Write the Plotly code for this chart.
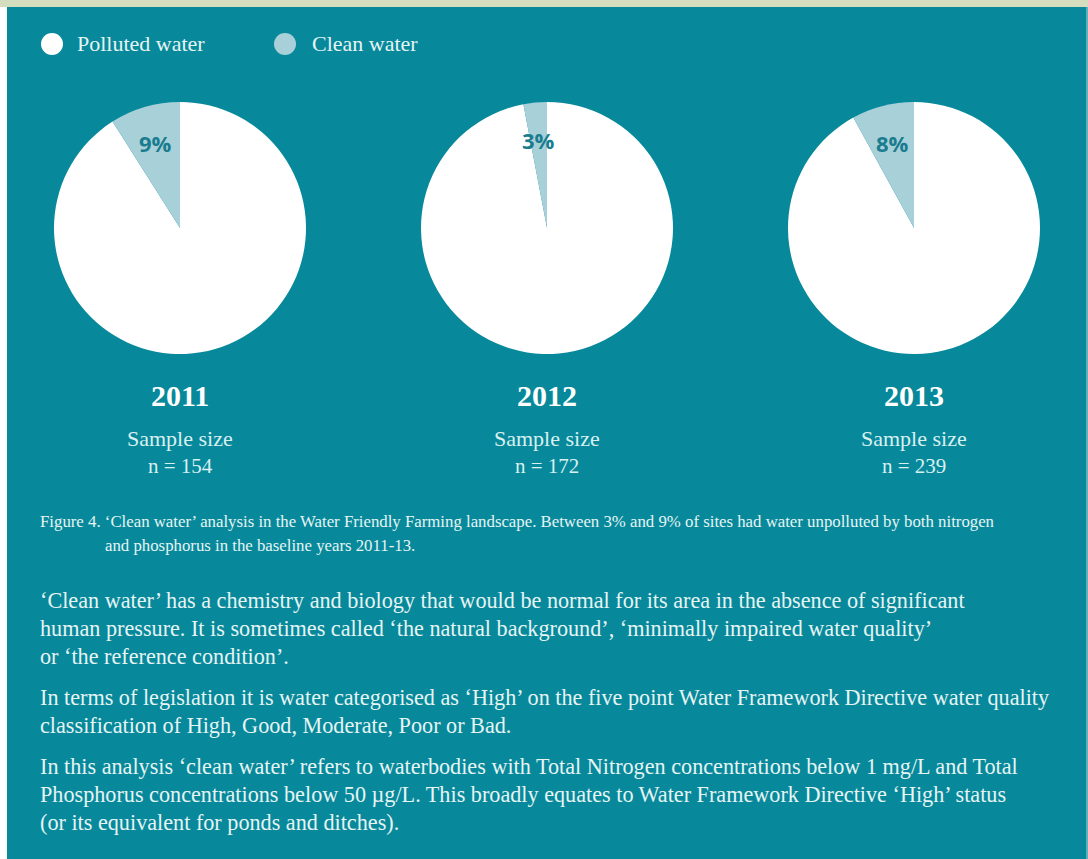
import math
import plotly.graph_objects as go

W, H = 1088, 859

# ---- data ----
years = ["2011", "2012", "2013"]
clean_pct = [9, 3, 8]
sample_sizes = [154, 172, 239]
categories = ["Polluted water", "Clean water"]
caption_lines = [
    "Figure 4. \u2018Clean water\u2019 analysis in the Water Friendly Farming landscape. Between 3% and 9% of sites had water unpolluted by both nitrogen",
    "and phosphorus in the baseline years 2011-13.",
]
paragraphs = [
    ["\u2018Clean water\u2019 has a chemistry and biology that would be normal for its area in the absence of significant",
     "human pressure. It is sometimes called \u2018the natural background\u2019, \u2018minimally impaired water quality\u2019",
     "or \u2018the reference condition\u2019."],
    ["In terms of legislation it is water categorised as \u2018High\u2019 on the five point Water Framework Directive water quality",
     "classification of High, Good, Moderate, Poor or Bad."],
    ["In this analysis \u2018clean water\u2019 refers to waterbodies with Total Nitrogen concentrations below 1 mg/L and Total",
     "Phosphorus concentrations below 50 \u00b5g/L. This broadly equates to Water Framework Directive \u2018High\u2019 status",
     "(or its equivalent for ponds and ditches)."],
]

TEAL = "#07899b"
CLEAN = "#a8d0d9"
POLLUTED = "#ffffff"
PCT_COL = "#1a7c8f"
SERIF = "Liberation Serif"
TXT = "#e6f4f4"


def px(x):
    return x / W


def py(y):
    return 1 - y / H


fig = go.Figure()

centers_x = [180, 547, 914]
cy = 228
R = 126

for i, yr in enumerate(years):
    cx = centers_x[i]
    fig.add_trace(go.Pie(
        values=[100 - clean_pct[i], clean_pct[i]],
        labels=[categories[0], categories[1]],
        marker=dict(colors=[POLLUTED, CLEAN], line=dict(width=0)),
        sort=False,
        direction="clockwise",
        rotation=0,
        textinfo="none",
        hoverinfo="label+percent",
        showlegend=False,
        domain=dict(x=[px(cx - R), px(cx + R)], y=[py(cy + R), py(cy - R)]),
    ))

annotations = []
shapes = []

# background panels
shapes.append(dict(type="rect", xref="paper", yref="paper", x0=0, x1=1, y0=0, y1=1,
                   fillcolor="#ffffff", line=dict(width=0), layer="below"))
shapes.append(dict(type="rect", xref="paper", yref="paper", x0=0, x1=1, y0=py(7), y1=1,
                   fillcolor="#d5ddbf", line=dict(width=0), layer="below"))
shapes.append(dict(type="rect", xref="paper", yref="paper", x0=px(7), x1=px(1086), y0=0, y1=py(7),
                   fillcolor=TEAL, line=dict(width=0), layer="below"))
shapes.append(dict(type="rect", xref="paper", yref="paper", x0=px(1086), x1=1, y0=0, y1=py(7),
                   fillcolor="#5fb0bd", line=dict(width=0), layer="below"))

# legend
leg_items = [(categories[0], POLLUTED, 52, 75), (categories[1], CLEAN, 285, 310)]
for name, col, mx, tx in leg_items:
    r = 11
    shapes.append(dict(type="circle", xref="paper", yref="paper",
                       x0=px(mx - r), x1=px(mx + r), y0=py(44 + r), y1=py(44 - r),
                       fillcolor=col, line=dict(width=0)))
    annotations.append(dict(x=px(tx), y=py(44), xref="paper", yref="paper", text=name,
                            showarrow=False, xanchor="left", yanchor="middle",
                            font=dict(family=SERIF, size=22, color=TXT)))

for i, yr in enumerate(years):
    cx = centers_x[i]
    # percent label at mid-angle of clean slice (left of 12 o'clock)
    ang = math.radians(clean_pct[i] / 100 * 360 / 2)
    rr = 0.70 * R
    lx = cx - rr * math.sin(ang)
    ly = cy - rr * math.cos(ang)
    annotations.append(dict(x=px(lx), y=py(ly), xref="paper", yref="paper",
                            text="<b>%d%%</b>" % clean_pct[i], showarrow=False,
                            xanchor="center", yanchor="middle",
                            font=dict(family="Open Sans", size=22, color=PCT_COL)))
    annotations.append(dict(x=px(cx), y=py(395), xref="paper", yref="paper",
                            text="<b>%s</b>" % yr, showarrow=False,
                            xanchor="center", yanchor="middle",
                            font=dict(family=SERIF, size=30, color="#ffffff")))
    annotations.append(dict(x=px(cx), y=py(438), xref="paper", yref="paper",
                            text="Sample size", showarrow=False,
                            xanchor="center", yanchor="middle",
                            font=dict(family=SERIF, size=22, color="#d9f0f1")))
    annotations.append(dict(x=px(cx), y=py(466), xref="paper", yref="paper",
                            text="n = %d" % sample_sizes[i], showarrow=False,
                            xanchor="center", yanchor="middle",
                            font=dict(family=SERIF, size=21, color="#d9f0f1")))

# caption
annotations.append(dict(x=px(38), y=py(521), xref="paper", yref="paper", text=caption_lines[0],
                        showarrow=False, xanchor="left", yanchor="middle",
                        font=dict(family=SERIF, size=16.8, color=TXT)))
annotations.append(dict(x=px(103), y=py(545), xref="paper", yref="paper", text=caption_lines[1],
                        showarrow=False, xanchor="left", yanchor="middle",
                        font=dict(family=SERIF, size=16.8, color=TXT)))

# paragraphs
para_y = [[600, 628, 656], [697, 725], [766, 794, 822]]
for lines, ys in zip(paragraphs, para_y):
    for line, yy in zip(lines, ys):
        annotations.append(dict(x=px(38), y=py(yy), xref="paper", yref="paper", text=line,
                                showarrow=False, xanchor="left", yanchor="middle",
                                font=dict(family=SERIF, size=22.2, color=TXT)))

fig.update_layout(
    width=W, height=H,
    margin=dict(l=0, r=0, t=0, b=0),
    paper_bgcolor=TEAL,
    plot_bgcolor=TEAL,
    shapes=shapes,
    annotations=annotations,
    showlegend=False,
)

fig.write_html("out.html")
